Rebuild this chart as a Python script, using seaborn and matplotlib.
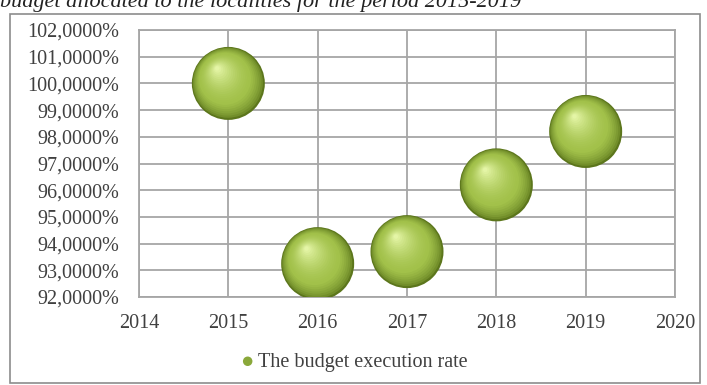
import numpy as np
import pandas as pd
import matplotlib
matplotlib.use("Agg")
import matplotlib.pyplot as plt
import matplotlib.transforms as mtransforms
from matplotlib.patches import Rectangle
from matplotlib.colors import to_rgb
from matplotlib.ticker import FuncFormatter, MultipleLocator
import seaborn as sns

years = [2015, 2016, 2017, 2018, 2019]
execution_rate = [100.0, 93.25, 93.7, 96.2, 98.2]
series_label = "The budget execution rate"
title_text = "budget allocated to the localities for the period 2015-2019"

df = pd.DataFrame({"year": years, "rate": execution_rate})

sns.set_theme(style="white")
plt.rcParams["font.family"] = ["Liberation Serif", "DejaVu Serif"]

fig = plt.figure(figsize=(7.07, 3.85), dpi=100)
ax = fig.add_axes([139 / 707, 1 - 297 / 385, (675 - 139) / 707, (297 - 30) / 385])

# sphere built from layered scatters
diam_pt = 73 * 0.72
n = 24
dark = np.array(to_rgb("#5c761c"))
mid = np.array(to_rgb("#a2c14a"))
light = np.array(to_rgb("#e4f5a6"))
for i in range(n):
    t = i / (n - 1)
    frac = 1 - 0.94 * t
    if t < 0.3:
        col = dark + (mid - dark) * (t / 0.3) ** 0.6
    else:
        col = mid + (light - mid) * ((t - 0.3) / 0.7) ** 1.6
    off = (1 - frac) * diam_pt / 2 * 0.38
    tr = ax.transData + mtransforms.ScaledTranslation(-off * 0.85 / 72, off * 1.15 / 72, fig.dpi_scale_trans)
    sns.scatterplot(data=df, x="year", y="rate", ax=ax, s=(diam_pt * frac) ** 2,
                    color=tuple(np.clip(col, 0, 1)), edgecolor="none", linewidth=0,
                    transform=tr, zorder=3 + i,
                    label=series_label if i == 0 else None, legend=False)

ax.set_xlim(2014, 2020)
ax.set_ylim(92, 102)
ax.xaxis.set_major_locator(MultipleLocator(1))
ax.yaxis.set_major_locator(MultipleLocator(1))
ax.yaxis.set_major_formatter(FuncFormatter(lambda v, p: f"{v:.4f}%".replace(".", ",")))
ax.xaxis.set_major_formatter(FuncFormatter(lambda v, p: f"{int(round(v))}"))
ax.set_xlabel("")
ax.set_ylabel("")
ax.grid(True, color="#a6a6a6", linewidth=1.3)
ax.set_axisbelow(True)
for sp in ax.spines.values():
    sp.set_color("#a6a6a6")
    sp.set_linewidth(1.3)
ax.tick_params(axis="both", labelsize=14.5, colors="#a6a6a6", labelcolor="#404040", length=0)
ax.tick_params(axis="y", pad=14)
ax.tick_params(axis="x", pad=12)

# legend
h = ax.collections[0]
leg = fig.legend(handles=[h], labels=[series_label], loc="center",
                 bbox_to_anchor=(0.5, 1 - 362 / 385), frameon=False,
                 markerscale=0.13, fontsize=14.5, handletextpad=0.1, handlelength=0.8)
for lh in leg.legend_handles:
    lh.set_facecolor("#8aa83a")
for t in leg.get_texts():
    t.set_color("#404040")

# chart border
fig.patches.append(Rectangle((10 / 707, 0.004), 690 / 707, 1 - 14 / 385 - 0.004,
                             transform=fig.transFigure, fill=False,
                             edgecolor="#8c8c8c", linewidth=1.2))

fig.text(0.0, 0.995, title_text, ha="left", va="center", fontsize=16, style="italic", color="#222222")

fig.savefig("out.png", dpi=100)
